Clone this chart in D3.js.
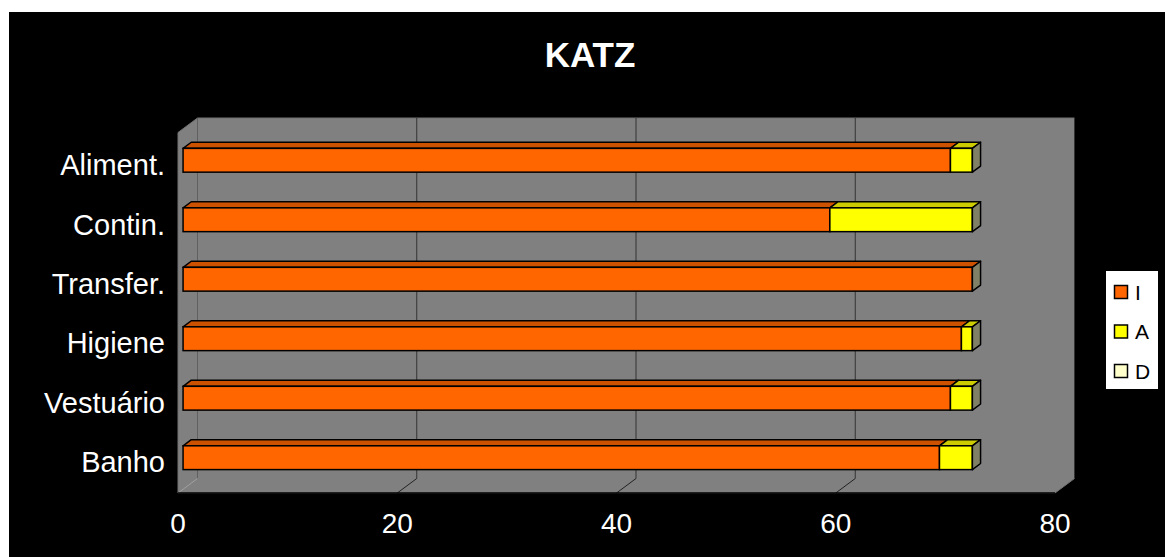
<!DOCTYPE html>
<html>
<head>
<meta charset="utf-8">
<script src="https://cdn.jsdelivr.net/npm/d3@7"></script>
<style>
  body { margin: 0; background: #fff; }
  text { font-family: "Liberation Sans", Arial, sans-serif; }
</style>
</head>
<body>
<div id="chart"></div>
<script>
// categories listed bottom to top, like the sheet
const categories = ["Banho", "Vestuário", "Higiene", "Transfer.", "Contin.", "Aliment."];
const seriesNames = ["I", "A", "D"];
const valuesI = [69, 70, 71, 72, 59, 70];
const valuesA = [3, 2, 1, 0, 13, 2];
const valuesD = [0, 0, 0, 0, 0, 0];
const xTicks = [0, 20, 40, 60, 80];

const frontColors = ["#FF6600", "#FFFF00", "#FFFFCC"];
const topColors = ["#CC5200", "#CCCC00", "#CCCCA3"];
const capColor = "#808066";

const W = 1165, H = 557;
const dX = 19.5, dY = -14.5;   // depth of the 3d box
const f0 = 0.26, f1 = 0.68;   // bar front / back depth

let rows = categories.map(function(c, i) {
	return {cat: c, I: valuesI[i], A: valuesA[i], D: valuesD[i]};
});

let x = d3.scaleLinear().domain([0, 80]).range([178, 1055]);
let y = d3.scaleBand()
	.domain(categories.slice().reverse())
	.range([132.5, 493])
	.paddingInner(0.6)
	.paddingOuter(0.33);

let svg = d3.select("#chart").append("svg")
	.attr("width", W)
	.attr("height", H);

svg.append("rect")
	.attr("x", 9).attr("y", 12)
	.attr("width", W - 9).attr("height", H - 12)
	.attr("fill", "#000");

// walls
let x0 = x(0), x80 = x(80), yT = 132.5, yB = 493;
let wallPts = [
	[x0, yT], [x0 + dX, yT + dY], [x80 + dX, yT + dY], [x80 + dX, yB + dY],
	[x80, yB], [x0, yB]
];
svg.append("polygon")
	.attr("points", wallPts.map(p => p.join(",")).join(" "))
	.attr("fill", "#808080")
	.attr("stroke", "#707070")
	.attr("stroke-width", 1);

// gridlines on back wall and floor
xTicks.forEach(function(t) {
	svg.append("line")
		.attr("x1", x(t) + dX).attr("x2", x(t) + dX)
		.attr("y1", yT + dY).attr("y2", yB + dY)
		.attr("stroke", t == 0 ? "#606060" : "#333")
		.attr("stroke-width", 1);
	if (t > 0 && t < 80) {
		svg.append("line")
			.attr("x1", x(t) + dX).attr("y1", yB + dY)
			.attr("x2", x(t)).attr("y2", yB)
			.attr("stroke", "#222")
			.attr("stroke-width", 1);
	}
});
svg.append("line")
	.attr("x1", x0 + dX).attr("y1", yB + dY)
	.attr("x2", x0).attr("y2", yB)
	.attr("stroke", "#a0a0a0")
	.attr("stroke-width", 1);

// front axis line
svg.append("line")
	.attr("x1", x0).attr("x2", x80)
	.attr("y1", yB).attr("y2", yB)
	.attr("stroke", "#000")
	.attr("stroke-width", 1.5);

let stack = d3.stack().keys(seriesNames);
let layers = stack(rows);

function pts(a) { return a.map(p => p.join(",")).join(" "); }

let bars = svg.append("g").attr("class", "bars");
layers.forEach(function(layer, si) {
	layer.forEach(function(d) {
		if (d[1] <= d[0]) return;
		let yt = y(d.data.cat), yb = yt + y.bandwidth();
		let a = x(d[0]), b = x(d[1]);
		bars.append("polygon")
			.attr("points", pts([[a + dX * f0, yt + dY * f0], [b + dX * f0, yt + dY * f0],
				[b + dX * f1, yt + dY * f1], [a + dX * f1, yt + dY * f1]]))
			.attr("fill", topColors[si])
			.attr("stroke", "#000").attr("stroke-width", 1.5)
			.attr("stroke-linejoin", "round");
		bars.append("rect")
			.attr("x", a + dX * f0)
			.attr("y", yt + dY * f0)
			.attr("width", b - a)
			.attr("height", y.bandwidth())
			.attr("fill", frontColors[si])
			.attr("stroke", "#000").attr("stroke-width", 1.5);
	});
});

// end caps
rows.forEach(function(r) {
	let tot = r.I + r.A + r.D;
	let yt = y(r.cat), yb = yt + y.bandwidth(), e = x(tot);
	bars.append("polygon")
		.attr("points", pts([[e + dX * f0, yt + dY * f0], [e + dX * f1, yt + dY * f1],
			[e + dX * f1, yb + dY * f1], [e + dX * f0, yb + dY * f0]]))
		.attr("fill", capColor)
		.attr("stroke", "#000").attr("stroke-width", 1.5)
		.attr("stroke-linejoin", "round");
});

// category labels
svg.append("g").selectAll("text")
	.data(categories)
	.enter().append("text")
	.attr("x", 165)
	.attr("y", d => y(d) + y.bandwidth() / 2 + 11)
	.attr("text-anchor", "end")
	.attr("fill", "#fff")
	.style("font-size", "29px")
	.text(d => d);

// value labels
svg.append("g").selectAll("text")
	.data(xTicks)
	.enter().append("text")
	.attr("x", d => x(d))
	.attr("y", 533)
	.attr("text-anchor", "middle")
	.attr("fill", "#fff")
	.style("font-size", "28px")
	.text(d => d);

svg.append("text")
	.attr("x", 590)
	.attr("y", 66.5)
	.attr("text-anchor", "middle")
	.attr("fill", "#fff")
	.style("font-size", "35px")
	.style("font-weight", "bold")
	.text("KATZ");

// legend
let lg = svg.append("g").attr("transform", "translate(1106,271)");
lg.append("rect")
	.attr("width", 52).attr("height", 118)
	.attr("fill", "#fff");
let item = lg.selectAll(".item")
	.data(seriesNames)
	.enter().append("g")
	.attr("class", "item")
	.attr("transform", (d, i) => "translate(0," + (21 + i * 39.5) + ")");
item.append("rect")
	.attr("x", 8.5).attr("y", -6.5)
	.attr("width", 13).attr("height", 13)
	.attr("fill", (d, i) => frontColors[i])
	.attr("stroke", "#000").attr("stroke-width", 1.5);
item.append("text")
	.attr("x", 29)
	.attr("y", 7.5)
	.attr("fill", "#000")
	.style("font-size", "21px")
	.text(d => d);
</script>
</body>
</html>
